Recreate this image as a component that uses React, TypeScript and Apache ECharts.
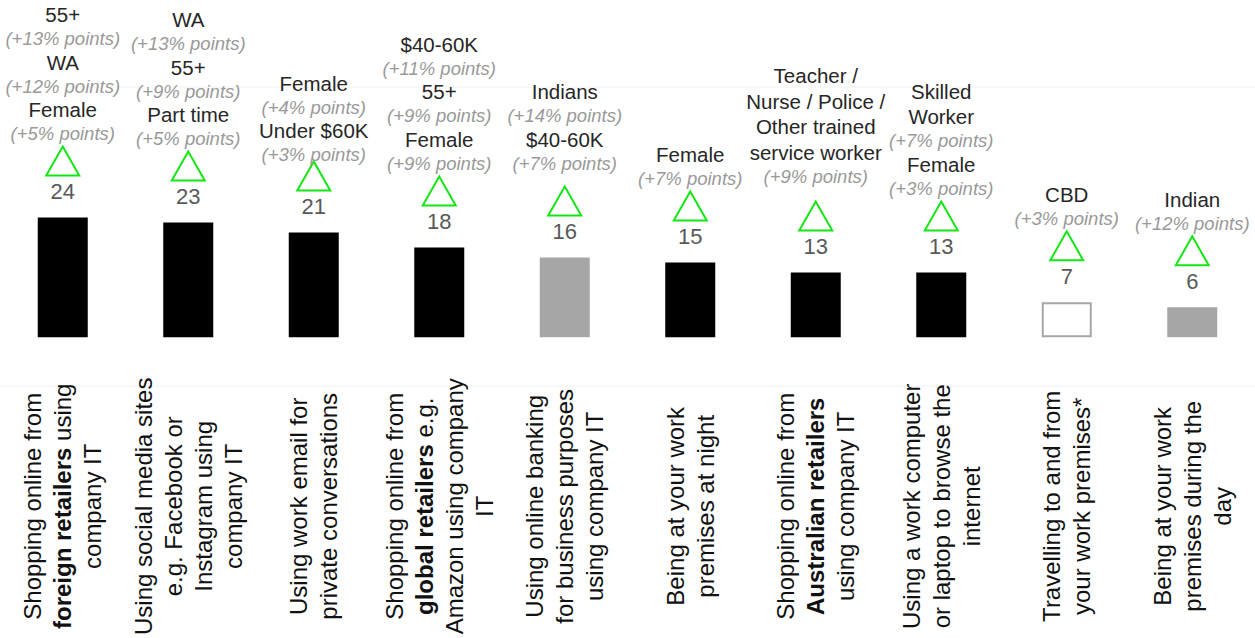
import React, { useEffect, useRef } from "react";
import * as echarts from "echarts";

const categories: string[] = [
  "Shopping online from\nforeign retailers using\ncompany IT",
  "Using social media sites\ne.g. Facebook or\nInstagram using\ncompany IT",
  "Using work email for\nprivate conversations",
  "Shopping online from\nglobal retailers e.g.\nAmazon using company\nIT",
  "Using online banking\nfor business purposes\nusing company IT",
  "Being at your work\npremises at night",
  "Shopping online from\nAustralian retailers\nusing company IT",
  "Using a work computer\nor laptop to browse the\ninternet",
  "Travelling to and from\nyour work premises*",
  "Being at your work\npremises during the\nday",
];

const boldPhrases: string[] = [
  "foreign retailers",
  "",
  "",
  "global retailers",
  "",
  "",
  "Australian retailers",
  "",
  "",
  "",
];

const values: number[] = [24, 23, 21, 18, 16, 15, 13, 13, 7, 6];

const barKinds: string[] = [
  "solid", "solid", "solid", "solid", "grey",
  "solid", "solid", "solid", "hollow", "grey",
];

// Each entry: list of [segment, uplift] shown top-to-bottom above the triangle
const annotations: [string, string][][] = [
  [["55+", "+13%"], ["WA", "+12%"], ["Female", "+5%"]],
  [["WA", "+13%"], ["55+", "+9%"], ["Part time", "+5%"]],
  [["Female", "+4%"], ["Under $60K", "+3%"]],
  [["$40-60K", "+11%"], ["55+", "+9%"], ["Female", "+9%"]],
  [["Indians", "+14%"], ["$40-60K", "+7%"]],
  [["Female", "+7%"]],
  [["Teacher /\nNurse / Police /\nOther trained\nservice worker", "+9%"]],
  [["Skilled\nWorker", "+7%"], ["Female", "+3%"]],
  [["CBD", "+3%"]],
  [["Indian", "+12%"]],
];

// extra vertical lift (px) of each annotation block, as laid out in the source
const annotationLift: number[] = [0, 0, -6, 0, 10, 0, 12, 0, 0, 0];

const FONT = "'Liberation Sans', Arial, sans-serif";

function richLabel(label: string, idx: number): string {
  const bold = boldPhrases[idx];
  return label
    .split("\n")
    .map((line) => {
      if (bold && line.includes(bold)) {
        const parts = line.split(bold);
        const out: string[] = [];
        parts.forEach((p, k) => {
          if (p) out.push(`{n|${p}}`);
          if (k < parts.length - 1) out.push(`{b|${bold}}`);
        });
        return out.join("");
      }
      return `{n|${line}}`;
    })
    .join("\n");
}

export default function App() {
  const ref = useRef<HTMLDivElement>(null);

  useEffect(() => {
    if (!ref.current) return;
    const chart = echarts.init(ref.current, undefined, { renderer: "svg" });

    const barData = values.map((v, i) => {
      const kind = barKinds[i];
      let itemStyle: any = { color: "#000000" };
      if (kind === "grey") itemStyle = { color: "#a6a6a6" };
      if (kind === "hollow")
        itemStyle = { color: "#ffffff", borderColor: "#a6a6a6", borderWidth: 2 };
      return { value: v, itemStyle };
    });

    const option: any = {
      animation: false,
      backgroundColor: "#ffffff",
      textStyle: { fontFamily: FONT },
      graphic: [
        {
          type: "line",
          shape: { x1: 0, y1: 87, x2: 1255, y2: 87 },
          style: { stroke: "#f2f2f2", lineWidth: 1 },
          silent: true,
          z: -1,
        },
        {
          type: "line",
          shape: { x1: 0, y1: 386, x2: 1255, y2: 386 },
          style: { stroke: "#f2f2f2", lineWidth: 1 },
          silent: true,
          z: -1,
        },
      ],
      grid: { left: -5, right: -2, top: 38, bottom: 300, containLabel: false },
      xAxis: {
        type: "category",
        data: categories,
        axisLine: { show: false },
        axisTick: { show: false },
        axisLabel: {
          interval: 0,
          rotate: 90,
          align: "center",
          verticalAlign: "middle",
          margin: 169,
          hideOverlap: false,
          formatter: (val: string, idx: number) => richLabel(val, idx),
          rich: {
            n: { fontSize: 24, fontFamily: FONT, color: "#111111", lineHeight: 30, align: "center" },
            b: { fontSize: 24, fontFamily: FONT, color: "#111111", fontWeight: "bold", lineHeight: 30, align: "center" },
          },
        },
      },
      yAxis: {
        type: "value",
        min: 0,
        max: 60,
        show: false,
        splitLine: { show: false },
      },
      series: [
        {
          type: "bar",
          data: barData,
          barWidth: 50,
          label: {
            show: true,
            position: "top",
            distance: 15,
            fontSize: 22,
            fontFamily: FONT,
            color: "#595959",
          },
        },
        {
          type: "custom",
          data: values.map((v, i) => [i, v]),
          encode: { x: 0, y: 1 },
          clip: false,
          z: 5,
          renderItem: (params: any, api: any) => {
            const i = params.dataIndex;
            const v = api.value(1);
            const pt = api.coord([i, v]);
            const x = pt[0];
            const yTop = pt[1];
            const children: any[] = [];
            const triBottom = yTop - 42;
            const triTop = triBottom - 29;
            children.push({
              type: "polygon",
              shape: {
                points: [
                  [x - 16.5, triBottom],
                  [x + 16.5, triBottom],
                  [x, triTop],
                ],
              },
              style: { fill: "none", stroke: "#14e614", lineWidth: 2 },
            });
            let y = yTop - 84 - annotationLift[i];
            const groups = annotations[i].slice().reverse();
            groups.forEach(([seg, delta]) => {
              children.push({
                type: "text",
                x,
                y,
                style: {
                  text: `(${delta} points)`,
                  fill: "#999999",
                  fontSize: 18.5,
                  fontStyle: "italic",
                  fontFamily: FONT,
                  align: "center",
                  verticalAlign: "middle",
                },
              });
              y -= 24;
              const lines = seg.split("\n").reverse();
              lines.forEach((ln, j) => {
                children.push({
                  type: "text",
                  x,
                  y,
                  style: {
                    text: ln,
                    fill: "#262626",
                    fontSize: 20.5,
                    fontFamily: FONT,
                    align: "center",
                    verticalAlign: "middle",
                  },
                });
                if (j < lines.length - 1) y -= 25.5;
              });
              y -= 23.5;
            });
            return { type: "group", children };
          },
        },
      ],
    };

    chart.setOption(option);
    return () => chart.dispose();
  }, []);

  return (
    <div
      ref={ref}
      style={{ position: "absolute", left: 0, top: 0, width: 1255, height: 638 }}
    />
  );
}
